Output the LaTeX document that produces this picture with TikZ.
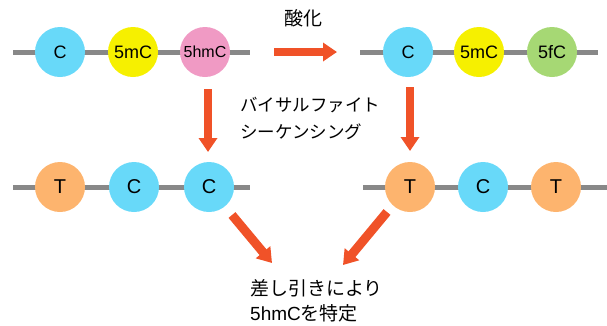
\documentclass[tikz,border=0pt]{standalone}
\usepackage{fontspec}
\setmainfont{Liberation Sans}
\newfontfamily\jp{Noto Sans CJK JP}
\usetikzlibrary{arrows.meta}
\definecolor{cblue}{RGB}{104,217,249}
\definecolor{cyellow}{RGB}{246,240,0}
\definecolor{cpink}{RGB}{240,154,196}
\definecolor{cgreen}{RGB}{166,216,116}
\definecolor{corange}{RGB}{253,180,110}
\definecolor{carrow}{RGB}{240,82,40}
\definecolor{cline}{RGB}{136,136,136}
\begin{document}
\begin{tikzpicture}[x=1pt,y=-1pt,
  base/.style={circle,minimum size=50pt,inner sep=0pt,font=\fontsize{18}{18}\selectfont},
  bigbase/.style={base,font=\fontsize{20}{20}\selectfont},
  strand/.style={line width=5pt,draw=cline},
  bigarrow/.style={line width=8pt,draw=carrow,-{Triangle[length=14pt,width=18pt]}},
  label/.style={inner sep=0pt}
]
\useasboundingbox (0,0) rectangle (607,325);
% strands
\coordinate (s1a) at (13,52);  \coordinate (s1b) at (250,52);
\coordinate (s2a) at (360,52); \coordinate (s2b) at (598,52);
\coordinate (s3a) at (13,187); \coordinate (s3b) at (250,187);
\coordinate (s4a) at (363,187);\coordinate (s4b) at (607,187);
\draw[strand] (s1a) -- (s1b);
\draw[strand] (s2a) -- (s2b);
\draw[strand] (s3a) -- (s3b);
\draw[strand] (s4a) -- (s4b);
% top left
\node[base,fill=cblue] (a1) at (60,52) {C};
\node[base,fill=cyellow] (a2) at (133,52) {5mC};
\node[base,fill=cpink,font=\fontsize{16}{16}\selectfont] (a3) at (205,52) {5hmC};
% top right
\node[base,fill=cblue] (b1) at (408,52) {C};
\node[base,fill=cyellow] (b2) at (479,52) {5mC};
\node[base,fill=cgreen] (b3) at (552,52) {5fC};
% bottom left
\node[bigbase,fill=corange] (c1) at (60,187) {T};
\node[bigbase,fill=cblue] (c2) at (134,187) {C};
\node[bigbase,fill=cblue] (c3) at (209,187) {C};
% bottom right
\node[bigbase,fill=corange] (d1) at (410,187) {T};
\node[bigbase,fill=cblue] (d2) at (483,187) {C};
\node[bigbase,fill=corange] (d3) at (556,187) {T};
% arrows
\coordinate (h1) at (274,52); \coordinate (h2) at (337,52);
\coordinate (v1a) at (208,89); \coordinate (v1b) at (208,152);
\coordinate (v2a) at (410,87); \coordinate (v2b) at (410,151);
\coordinate (g1a) at (232,215); \coordinate (g1b) at (272,263);
\coordinate (g2a) at (387,212); \coordinate (g2b) at (343,265);
\draw[bigarrow] (h1) -- (h2);
\draw[bigarrow] (v1a) -- (v1b);
\draw[bigarrow] (v2a) -- (v2b);
\draw[bigarrow,line width=9pt] (g1a) -- (g1b);
\draw[bigarrow,line width=9pt] (g2a) -- (g2b);
% texts
\node[label,font=\jp\fontsize{19}{19}\selectfont] (ox) at (303,18) {酸化};
\node[label,anchor=west,align=left,font=\jp\fontsize{17.5}{27}\selectfont] (bs) at (240,118.5) {バイサルファイト\\シーケンシング};
\node[label,anchor=west,align=left,font=\fontsize{19}{25}\selectfont] (res) at (250,300.5) {{\jp 差し引きにより}\\5hmC{\jp を特定}};
\end{tikzpicture}
\end{document}
